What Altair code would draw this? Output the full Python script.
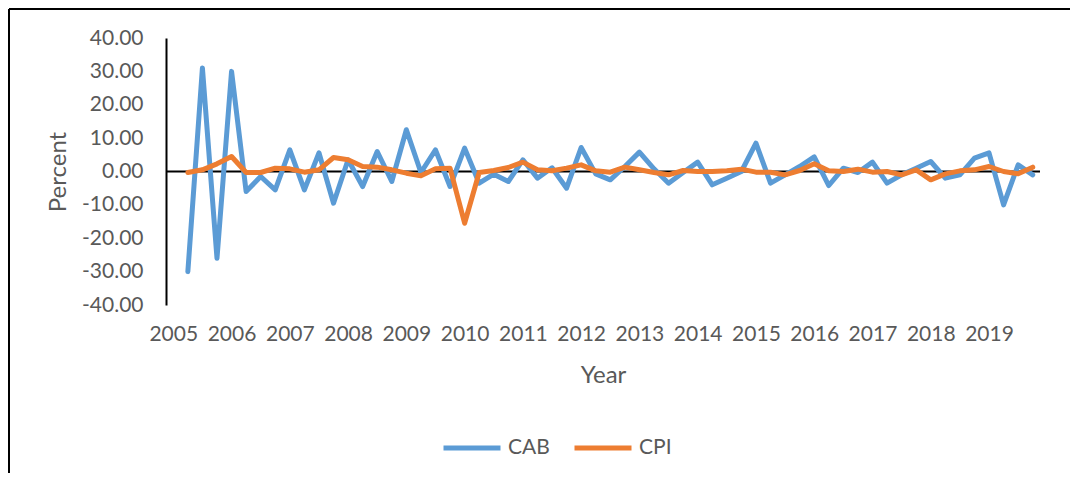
import altair as alt
import pandas as pd

# ---- data ----
series_names = ["CAB", "CPI"]
series_colors = ["#5B9BD5", "#ED7D31"]
years = list(range(2005, 2020))
# quarters 2005Q2 .. 2019Q4 (index 1..59; index 0 = 2005Q1 is empty)
quarter_index = list(range(1, 60))
cab = [-30, 31, -26, 30, -6, -1.5, -5.5, 6.5, -5.5, 5.6,
       -9.5, 3.5, -4.5, 6, -3, 12.5, -0.3, 6.5, -4.5, 7,
       -3.5, -0.8, -3, 3.5, -2, 1.1, -5, 7.2, -0.7, -2.5,
       1.5, 5.8, 0.8, -3.5, -0.3, 2.8, -4, -2, 0, 8.5,
       -3.5, -1, 1.5, 4.4, -4.2, 1, -0.3, 2.8, -3.5, -1,
       1, 3, -2, -1, 4, 5.6, -10, 2, -1]
cpi = [-0.3, 0.5, 2.3, 4.5, -0.3, -0.3, 1, 0.8, -0.2, 0.5,
       4.2, 3.5, 1.5, 1.3, 0.5, -0.5, -1.3, 0.8, 1, -15.5,
       -0.3, 0.3, 1.2, 2.8, 0.5, 0.2, 1, 2, 0.2, -0.2,
       1.3, 0.5, -0.3, -1, 0.3, 0, 0, 0.2, 0.7, -0.2,
       -0.2, -1, 0.3, 2.3, 0.2, 0, 0.7, -0.2, 0, -1,
       0.5, -2.5, -0.7, 0.2, 0.5, 1.5, 0, -0.7, 1.3]
y_ticks = [-40, -30, -20, -10, 0, 10, 20, 30, 40]

rows = []
for i, q in enumerate(quarter_index):
    rows.append({"q": q, "series": "CAB", "value": cab[i]})
    rows.append({"q": q, "series": "CPI", "value": cpi[i]})
df = pd.DataFrame(rows)
year_ticks = [4 * (y - 2005) for y in years]

FONT = "Lato"
GRAY = "#595959"
W, H = 874, 267
PL, PT = 158, 30
PR = 1062 - PL - W
PB = 465 - PT - H

x_scale = alt.Scale(domain=[-0.5, 59.5], nice=False, zero=False)
y_scale = alt.Scale(domain=[-40, 40], nice=False, zero=False)

y_axis = alt.Axis(values=y_ticks,
                  labelExpr="replace(format(datum.value, '.2f'), '\u2212', '-')",
                  title="Percent", grid=False, ticks=False,
                  domainColor="black", domainWidth=2,
                  labelPadding=23, titlePadding=11,
                  labelFont=FONT, labelFontSize=21, labelColor=GRAY,
                  titleFont=FONT, titleFontSize=24, titleColor=GRAY,
                  titleFontWeight="normal", labelFlush=False)

zero_rule = alt.Chart(pd.DataFrame({"value": [0]})).mark_rule(
    color="black", strokeWidth=2
).encode(y=alt.Y("value:Q", scale=y_scale, axis=y_axis, title="Percent"))

lines = alt.Chart(df).mark_line(
    strokeWidth=5, strokeCap="round", strokeJoin="round"
).encode(
    x=alt.X("q:Q", scale=x_scale,
            axis=alt.Axis(values=year_ticks,
                          labelExpr="toString(2005 + datum.value / 4)",
                          title="Year", domain=False, ticks=False, grid=False,
                          labelPadding=18, titlePadding=19,
                          labelFont=FONT, labelFontSize=21, labelColor=GRAY,
                          titleFont=FONT, titleFontSize=24, titleColor=GRAY,
                          titleFontWeight="normal", labelFlush=False,
                          labelOverlap=False)),
    y=alt.Y("value:Q", scale=y_scale, axis=y_axis, title="Percent"),
    color=alt.Color("series:N",
                    scale=alt.Scale(domain=series_names, range=series_colors),
                    legend=alt.Legend(title=None, orient="none", direction="horizontal",
                                      legendX=275, legendY=379, padding=0,
                                      symbolType="stroke", symbolSize=3249,
                                      symbolStrokeWidth=5, labelOffset=5,
                                      columnPadding=14,
                                      labelFont=FONT, labelFontSize=21,
                                      labelColor=GRAY)),
)

frame_left = alt.Chart(pd.DataFrame({"a": [0]})).mark_rule(
    color="black", strokeWidth=2
).encode(x=alt.value(-PL + 1), y=alt.value(-PT + 1), y2=alt.value(H + PB + 20))
frame_top = alt.Chart(pd.DataFrame({"a": [0]})).mark_rule(
    color="black", strokeWidth=2
).encode(x=alt.value(-PL + 1), x2=alt.value(W + PR + 20), y=alt.value(-PT + 1))

chart = alt.layer(zero_rule, lines, frame_left, frame_top).properties(
    width=W, height=H,
    autosize=alt.AutoSizeParams(type="none"),
    padding={"left": PL, "top": PT, "right": PR, "bottom": PB},
    background="white",
).configure_view(stroke=None)

chart.save("out.html", embed_options={"renderer": "svg", "actions": False})
